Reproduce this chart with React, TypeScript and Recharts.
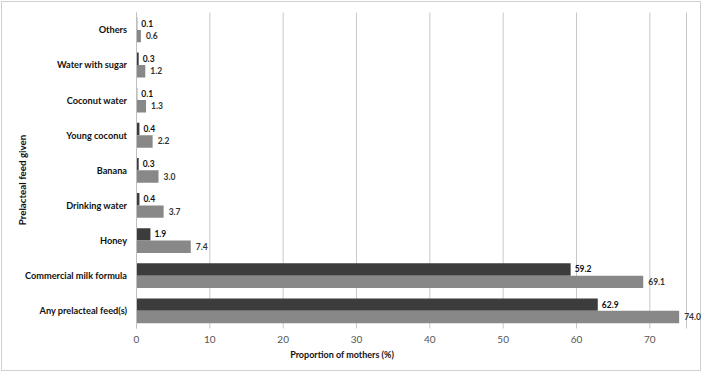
import React from 'react';
import { BarChart, Bar, XAxis, YAxis, CartesianGrid, LabelList } from 'recharts';

const categories = [
  'Others',
  'Water with sugar',
  'Coconut water',
  'Young coconut',
  'Banana',
  'Drinking water',
  'Honey',
  'Commercial milk formula',
  'Any prelacteal feed(s)',
];
const seriesDark = [0.1, 0.3, 0.1, 0.4, 0.3, 0.4, 1.9, 59.2, 62.9];
const seriesLight = [0.6, 1.2, 1.3, 2.2, 3.0, 3.7, 7.4, 69.1, 74.0];
const xTicks = [0, 10, 20, 30, 40, 50, 60, 70];

const data = categories.map((c, i) => ({ name: c, a: seriesDark[i], b: seriesLight[i] }));

const FONT = 'Lato, "Open Sans", sans-serif';

const CatTick = (props: any) => {
  const { x, y, payload } = props;
  return (
    <text x={x} y={y} dy={3.3} textAnchor="end" fontSize={9.2} fontWeight={700} fill="#111" fontFamily={FONT}>
      {payload.value}
    </text>
  );
};

const makeLabel = (fill: string, off: number) => (props: any) => {
  const { x, y, width, height, value } = props;
  return (
    <text
      x={Number(x) + Number(width) + off}
      y={Number(y) + Number(height) / 2 + 3}
      fontSize={8.5}
      fontWeight={700}
      fill={fill}
      fontFamily={FONT}
    >
      {Number(value).toFixed(1)}
    </text>
  );
};

export default function App() {
  return (
    <div style={{ position: 'absolute', left: 0, top: 0, width: 702, height: 372, background: '#fff' }}>
      <div style={{ position: 'absolute', left: 1, top: 1, width: 698, height: 368, border: '1px solid #d0d0d0' }} />
      <BarChart
        width={702}
        height={372}
        data={data}
        layout="vertical"
        margin={{ top: 12.5, right: 15.5, bottom: 0, left: 0 }}
        barGap={0}
        barSize={12.4}
        style={{ position: 'absolute', left: 0, top: 0 }}
      >
        <CartesianGrid horizontal={false} vertical stroke="#c8c8c8" strokeWidth={1} />
        <XAxis
          type="number"
          domain={[0, 75]}
          ticks={xTicks}
          allowDataOverflow
          height={43.5}
          axisLine={false}
          tickLine={false}
          tick={{ fontSize: 10, fill: '#555', fontFamily: FONT }}
          tickMargin={1}
        />
        <YAxis
          type="category"
          dataKey="name"
          width={136.5}
          axisLine={{ stroke: '#bfbfbf' }}
          tickLine={false}
          tick={<CatTick />}
          tickMargin={3.5}
        />
        <Bar dataKey="a" fill="#3c3c3c" isAnimationActive={false}>
          <LabelList dataKey="a" content={makeLabel('#111', 4)} />
        </Bar>
        <Bar dataKey="b" fill="#888888" isAnimationActive={false}>
          <LabelList dataKey="b" content={makeLabel('#333', 5)} />
        </Bar>
        <text x={342} y={358} textAnchor="middle" fontSize={9} fontWeight={700} fill="#111" fontFamily={FONT}>
          Proportion of mothers (%)
        </text>
        <text
          x={26}
          y={180}
          textAnchor="middle"
          fontSize={9.8}
          fontWeight={700}
          fill="#111"
          fontFamily={FONT}
          transform="rotate(-90 26 180)"
        >
          Prelacteal feed given
        </text>
      </BarChart>
    </div>
  );
}
